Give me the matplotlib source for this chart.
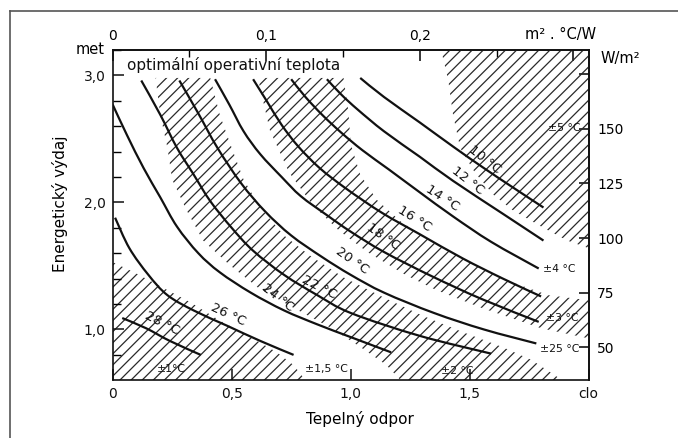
import matplotlib
matplotlib.use("Agg")
import matplotlib.pyplot as plt
from matplotlib.lines import Line2D
from matplotlib.path import Path
from matplotlib.patches import PathPatch
from matplotlib.ticker import FixedLocator

plt.rcParams['font.family'] = ['DejaVu Sans']
plt.rcParams['hatch.linewidth'] = 0.9

# ---- optimal operative temperature curves (clothing clo, activity met) ----
temps = [28, 26, 24, 22, 20, 18, 16, 14, 12, 10]
clo_28 = [0.04, 0.14, 0.24, 0.37]
met_28 = [1.09, 1.01, 0.91, 0.80]
clo_26 = [0.01, 0.07, 0.15, 0.23, 0.34, 0.48, 0.62, 0.76]
met_26 = [1.88, 1.64, 1.43, 1.27, 1.15, 1.03, 0.91, 0.80]
clo_24 = [0.00, 0.06, 0.13, 0.20, 0.27, 0.36, 0.45, 0.58, 0.72, 0.86, 1.00, 1.17]
met_24 = [2.77, 2.53, 2.27, 2.04, 1.81, 1.60, 1.45, 1.29, 1.15, 1.04, 0.94, 0.82]
clo_22 = [0.12, 0.20, 0.27, 0.34, 0.41, 0.50, 0.59, 0.72, 0.86, 1.00, 1.29, 1.59]
met_22 = [2.96, 2.69, 2.43, 2.22, 2.01, 1.80, 1.62, 1.43, 1.27, 1.13, 0.95, 0.81]
clo_20 = [0.28, 0.36, 0.44, 0.54, 0.64, 0.75, 0.88, 1.00, 1.14, 1.35, 1.56, 1.78]
met_20 = [2.96, 2.70, 2.43, 2.15, 1.93, 1.74, 1.57, 1.43, 1.29, 1.13, 1.00, 0.89]
clo_18 = [0.43, 0.49, 0.55, 0.62, 0.71, 0.79, 0.90, 1.00, 1.14, 1.34, 1.55, 1.79]
met_18 = [2.97, 2.77, 2.56, 2.38, 2.20, 2.05, 1.90, 1.77, 1.61, 1.42, 1.24, 1.06]
clo_16 = [0.59, 0.65, 0.71, 0.78, 0.87, 0.98, 1.13, 1.29, 1.47, 1.64, 1.80]
met_16 = [2.97, 2.79, 2.61, 2.44, 2.27, 2.11, 1.92, 1.75, 1.56, 1.40, 1.26]
clo_14 = [0.75, 0.81, 0.88, 0.96, 1.05, 1.16, 1.29, 1.43, 1.59, 1.79]
met_14 = [2.97, 2.83, 2.69, 2.55, 2.41, 2.26, 2.08, 1.89, 1.69, 1.48]
clo_12 = [0.90, 0.96, 1.03, 1.14, 1.29, 1.43, 1.64, 1.81]
met_12 = [2.97, 2.85, 2.73, 2.56, 2.36, 2.17, 1.91, 1.70]
clo_10 = [1.04, 1.14, 1.29, 1.43, 1.56, 1.68, 1.81]
met_10 = [2.98, 2.83, 2.63, 2.44, 2.27, 2.12, 1.96]

curves = {28: (clo_28, met_28), 26: (clo_26, met_26), 24: (clo_24, met_24),
          22: (clo_22, met_22), 20: (clo_20, met_20), 18: (clo_18, met_18),
          16: (clo_16, met_16), 14: (clo_14, met_14), 12: (clo_12, met_12),
          10: (clo_10, met_10)}

# ---- tolerance band boundaries (clo, met) ----
b1_clo = [0.00, 0.09, 0.20, 0.33, 0.45, 0.58, 0.69, 0.76, 0.81]
b1_met = [1.53, 1.45, 1.34, 1.21, 1.07, 0.94, 0.82, 0.72, 0.60]
b2_clo = [0.18, 0.20, 0.23, 0.25, 0.31, 0.38, 0.49, 0.61, 0.76, 0.92, 1.05, 1.15, 1.21]
b2_met = [2.98, 2.69, 2.43, 2.18, 1.94, 1.70, 1.51, 1.33, 1.17, 1.01, 0.85, 0.72, 0.60]
b3_clo = [0.41, 0.45, 0.50, 0.55, 0.62, 0.72, 0.83, 0.97, 1.13, 1.30, 1.47, 1.64, 1.76, 1.89]
b3_met = [2.98, 2.69, 2.43, 2.18, 1.96, 1.74, 1.58, 1.41, 1.26, 1.11, 0.98, 0.86, 0.76, 0.60]
b4_clo = [0.61, 0.66, 0.74, 0.84, 0.95, 1.07, 1.23, 1.36, 1.55, 1.80, 2.00]
b4_met = [2.98, 2.57, 2.24, 1.98, 1.78, 1.61, 1.43, 1.31, 1.17, 1.01, 0.93]
b5_clo = [0.97, 0.99, 1.00, 1.04, 1.11, 1.21, 1.34, 1.51, 1.68, 1.83, 2.00]
b5_met = [2.98, 2.72, 2.46, 2.22, 2.02, 1.85, 1.69, 1.52, 1.37, 1.27, 1.23]
b6_clo = [1.38, 1.41, 1.43, 1.46, 1.52, 1.60, 1.68, 1.81, 1.91, 2.00]
b6_met = [3.20, 2.96, 2.69, 2.43, 2.24, 2.06, 1.94, 1.80, 1.70, 1.64]

tol_labels = ["±5 °C", "±4 °C", "±3 °C", "±25 °C", "±2 °C", "±1,5 °C", "±1°C"]

# axis tick values / labels
met_ticks = [1.0, 2.0, 3.0]
met_ticklabels = ["1,0", "2,0", "3,0"]
met_minor = [0.8, 1.2, 1.4, 1.6, 1.8, 2.2, 2.4, 2.6, 2.8, 3.2]
clo_ticks = [0.0, 0.5, 1.0, 1.5, 2.0]
clo_ticklabels = ["0", "0,5", "1,0", "1,5", "clo"]
r_ticks = [0.0, 0.1, 0.2, 0.3]
r_ticklabels = ["0", "0,1", "0,2", ""]
r_minor = [0.05, 0.15, 0.25]
w_ticks = [50, 75, 100, 125, 150, 175]
w_ticklabels = ["50", "75", "100", "125", "150", ""]

W, H = 678, 438
def fp(x, y):
    return (x / W, 1 - y / H)


def smooth_path(xs, ys):
    """Catmull-Rom curve through the given points, drawn as cubic Beziers."""
    pts = list(zip(xs, ys))
    n = len(pts)
    verts = [pts[0]]
    codes = [Path.MOVETO]
    for i in range(n - 1):
        p0 = pts[i - 1] if i > 0 else pts[i]
        p1 = pts[i]
        p2 = pts[i + 1]
        p3 = pts[i + 2] if i + 2 < n else pts[i + 1]
        c1 = (p1[0] + (p2[0] - p0[0]) / 6, p1[1] + (p2[1] - p0[1]) / 6)
        c2 = (p2[0] - (p3[0] - p1[0]) / 6, p2[1] - (p3[1] - p1[1]) / 6)
        verts += [c1, c2, p2]
        codes += [Path.CURVE4] * 3
    return Path(verts, codes)


fig = plt.figure(figsize=(W / 100, H / 100), dpi=100)
ax = fig.add_axes([112.7 / W, 1 - 380.3 / H, 476 / W, 330.3 / H])
ax.set_xlim(0, 2.0)
ax.set_ylim(0.6, 3.2)

hatch_kw = dict(facecolor='none', edgecolor='#2a2a2a', linewidth=0, hatch='///', zorder=1)
ax.fill(b1_clo + [0.0], b1_met + [0.6], **hatch_kw)                       # +-1
ax.fill(b2_clo + b3_clo[::-1], b2_met + b3_met[::-1], **hatch_kw)         # +-2
ax.fill(b4_clo + b5_clo[::-1], b4_met + b5_met[::-1], **hatch_kw)         # +-3
ax.fill(b6_clo + [2.0], b6_met + [3.2], **hatch_kw)                       # +-5

for t in temps:
    c, m = curves[t]
    ax.add_patch(PathPatch(smooth_path(c, m), fill=False, edgecolor='#111111',
                           lw=1.6, capstyle='butt', zorder=3))

# temperature labels (position, rotation)
lab_pos = {28: (0.208, 1.05, -27), 26: (0.487, 1.12, -25), 24: (0.694, 1.25, -38),
           22: (0.867, 1.335, -27), 20: (1.006, 1.54, -35), 18: (1.137, 1.73, -35),
           16: (1.268, 1.87, -32), 14: (1.386, 2.03, -33), 12: (1.492, 2.175, -38),
           10: (1.564, 2.34, -38)}
for t in temps:
    x, y, r = lab_pos[t]
    ax.text(x, y, f"{t} °C", rotation=r, ha='center', va='center', fontsize=9.5,
            color='#111111', zorder=4, rotation_mode='anchor')

tol_pos = [(1.897, 2.589), (1.876, 1.474), (1.889, 1.087), (1.880, 0.850),
           (1.446, 0.676), (0.897, 0.692), (0.246, 0.692)]
for s, (x, y) in zip(tol_labels, tol_pos):
    ax.text(x, y, s, ha='center', va='center', fontsize=7.8, color='#111111', zorder=4)

ax.text(0.06, 3.079, "optimální operativní teplota", ha='left', va='center',
        fontsize=11, color='#111111')

for sp in ax.spines.values():
    sp.set_linewidth(1.2)
    sp.set_color('#111111')

ax.set_yticks(met_ticks)
ax.set_yticklabels(met_ticklabels)
ax.yaxis.set_minor_locator(FixedLocator(met_minor))
ax.set_xticks(clo_ticks)
ax.set_xticklabels(clo_ticklabels)
ax.tick_params(axis='both', which='major', direction='in', length=8, width=1.1,
               labelsize=10, pad=5, colors='#111111')
ax.tick_params(axis='y', which='minor', direction='in', length=5.5, width=1.0)

secx = ax.secondary_xaxis('top', functions=(lambda c: c * 0.155, lambda r: r / 0.155))
secx.set_xticks(r_ticks)
secx.set_xticklabels(r_ticklabels)
secx.xaxis.set_minor_locator(FixedLocator(r_minor))
secx.tick_params(which='major', direction='in', length=8, width=1.1, labelsize=10, pad=5)
secx.tick_params(which='minor', direction='in', length=5, width=1.0)
secx.spines['top'].set_linewidth(1.2)

secy = ax.secondary_yaxis('right', functions=(lambda m: m * 58.15, lambda w: w / 58.15))
secy.set_yticks(w_ticks)
secy.set_yticklabels(w_ticklabels)
secy.tick_params(which='major', direction='in', length=7, width=1.1, labelsize=10, pad=6)
secy.spines['right'].set_linewidth(1.2)

fig.text(*fp(105, 49), "met", ha='right', va='center', fontsize=10.5)
fig.text(*fp(561, 35), "m² . °C/W", ha='center', va='center', fontsize=10.5)
fig.text(*fp(620, 58), "W/m²", ha='center', va='center', fontsize=10.5)
fig.text(*fp(360, 419), "Tepelný odpor", ha='center', va='center', fontsize=11)
fig.text(*fp(60, 204), "Energetický výdaj", ha='center', va='center', fontsize=11,
         rotation=90)

# outer frame (left and top edges)
fig.add_artist(Line2D([10 / W, 10 / W], [0, 1 - 11 / H], color='#555555', lw=1.2))
fig.add_artist(Line2D([10 / W, 1], [1 - 11 / H, 1 - 11 / H], color='#555555', lw=1.2))

fig.savefig("out.png", dpi=100)
